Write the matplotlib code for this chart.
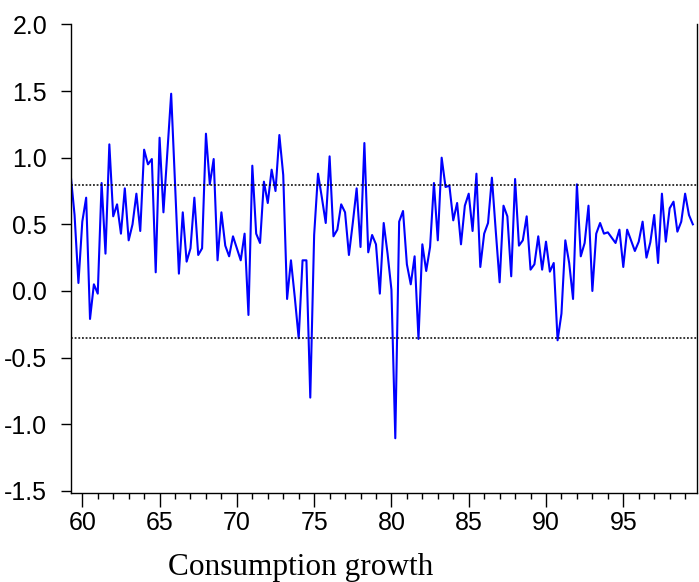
import numpy as np
import matplotlib.pyplot as plt

# quarterly consumption growth, 1959Q2 onward
start = 1959.25
growth = [
    0.87, 0.57, 0.06, 0.52, 0.70, -0.21, 0.05, -0.02, 0.81, 0.28,
    1.10, 0.56, 0.65, 0.43, 0.77, 0.38, 0.50, 0.73, 0.45, 1.06,
    0.95, 0.99, 0.14, 1.15, 0.59, 1.03, 1.48, 0.80, 0.13, 0.59,
    0.22, 0.32, 0.70, 0.27, 0.32, 1.18, 0.80, 0.99, 0.23, 0.59,
    0.34, 0.26, 0.41, 0.32, 0.23, 0.43, -0.18, 0.94, 0.43, 0.36,
    0.82, 0.66, 0.91, 0.75, 1.17, 0.87, -0.06, 0.23, -0.05, -0.355,
    0.23, 0.23, -0.80, 0.42, 0.88, 0.70, 0.51, 1.01, 0.41, 0.46,
    0.65, 0.59, 0.27, 0.51, 0.77, 0.33, 1.11, 0.29, 0.42, 0.35,
    -0.02, 0.51, 0.28, 0.01, -1.105, 0.52, 0.60, 0.20, 0.05, 0.26,
    -0.36, 0.35, 0.15, 0.33, 0.81, 0.38, 1.00, 0.78, 0.79, 0.53,
    0.66, 0.35, 0.64, 0.73, 0.45, 0.88, 0.18, 0.43, 0.51, 0.85,
    0.45, 0.065, 0.64, 0.56, 0.11, 0.84, 0.34, 0.38, 0.56, 0.16,
    0.20, 0.41, 0.16, 0.37, 0.145, 0.21, -0.37, -0.17, 0.38, 0.21,
    -0.06, 0.80, 0.26, 0.36, 0.64, 0.00, 0.43, 0.51, 0.43, 0.44,
    0.40, 0.36, 0.46, 0.18, 0.46, 0.38, 0.30, 0.37, 0.52, 0.25,
    0.365, 0.57, 0.21, 0.73, 0.37, 0.62, 0.67, 0.445, 0.52, 0.73,
    0.57, 0.50,
]
band_hi = 0.795
band_lo = -0.355

year_ticks = [1960, 1965, 1970, 1975, 1980, 1985, 1990, 1995]
year_labels = ['60', '65', '70', '75', '80', '85', '90', '95']
y_ticks = [-1.5, -1.0, -0.5, 0.0, 0.5, 1.0, 1.5, 2.0]

t = start + 0.25 * np.arange(len(growth))

fig = plt.figure(figsize=(6.99, 5.82), dpi=100)
W, H = 699, 582
ax = fig.add_axes([70.7 / W, 1 - 493.3 / H, (696.7 - 70.7) / W, (493.3 - 24.4) / H])

ax.plot(t, growth, color='#0000ff', lw=1.5)
ax.axhline(band_hi, color='black', ls=(0, (1.2, 1.2)), lw=1.1)
ax.axhline(band_lo, color='black', ls=(0, (1.2, 1.2)), lw=1.1)

ax.set_xlim(start, start + 0.25 * 162)
ax.set_ylim(-1.518, 2.0)

ax.set_xticks(year_ticks)
ax.set_xticklabels(year_labels)
ax.set_xticks(np.arange(1960, 2000), minor=True)
ax.set_yticks(y_ticks)
ax.set_yticklabels([f'{v:.1f}' for v in y_ticks])

tick_font = dict(family=['Liberation Sans Narrow', 'Liberation Sans'], size=18)
for lab in ax.get_xticklabels() + ax.get_yticklabels():
    lab.set(**tick_font)
ax.tick_params(axis='x', which='major', length=10, width=1, pad=3)
ax.tick_params(axis='x', which='minor', length=4, width=1)
ax.tick_params(axis='y', which='major', length=7, width=1, pad=10)
ax.spines['top'].set_visible(False)
for s in ['left', 'bottom', 'right']:
    ax.spines[s].set_linewidth(1)

fig.text(168 / W, 1 - 575 / H, 'Consumption growth', family='Liberation Serif',
         fontsize=22.5, va='baseline', ha='left')

fig.savefig('out.png', dpi=100)
